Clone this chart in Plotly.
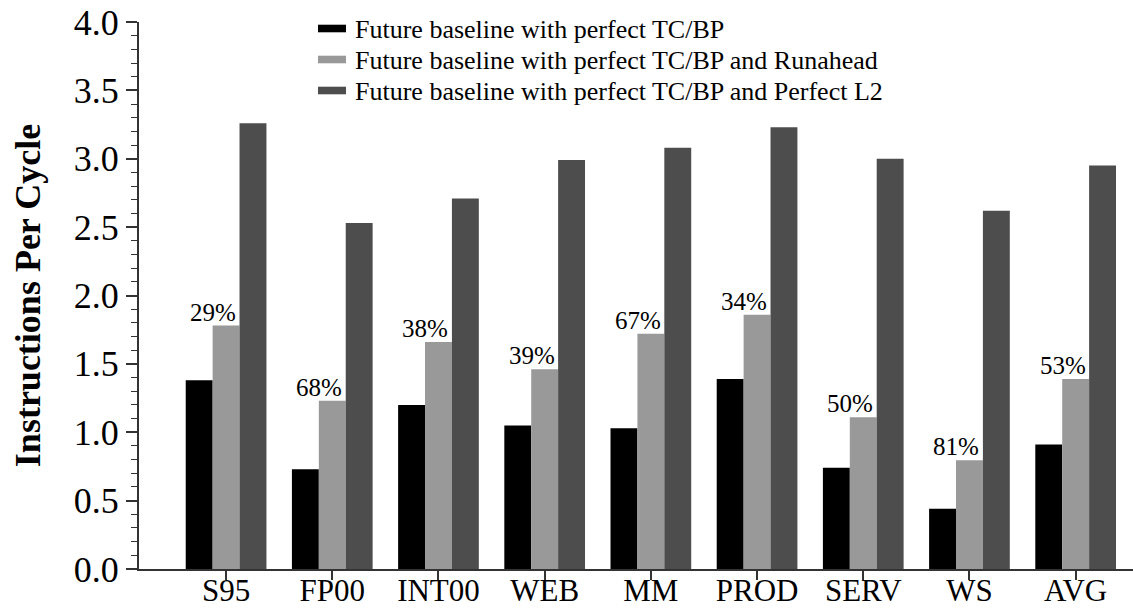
import plotly.graph_objects as go

# Benchmark suites and IPC results
categories = ["S95", "FP00", "INT00", "WEB", "MM", "PROD", "SERV", "WS", "AVG"]
ipc_perfect_tcbp = [1.38, 0.73, 1.20, 1.05, 1.03, 1.39, 0.74, 0.44, 0.91]
ipc_runahead = [1.78, 1.23, 1.66, 1.46, 1.72, 1.86, 1.11, 0.795, 1.39]
ipc_perfect_l2 = [3.26, 2.53, 2.71, 2.99, 3.08, 3.23, 3.00, 2.62, 2.95]
runahead_gain = ["29%", "68%", "38%", "39%", "67%", "34%", "50%", "81%", "53%"]

series_names = [
    "Future baseline with perfect TC/BP",
    "Future baseline with perfect TC/BP and Runahead",
    "Future baseline with perfect TC/BP and Perfect L2",
]
series_colors = ["#000000", "#999999", "#4d4d4d"]

FONT = "Liberation Serif"
AXIS_COLOR = "#333333"

W, H = 1133, 610
M_L, M_R, M_T, M_B = 139, 0, 22, 41
PLOT_W = W - M_L - M_R
PLOT_H = H - M_T - M_B


def paper_x(px):
    return (px - M_L) / PLOT_W


def paper_y(py):
    return (H - M_B - py) / PLOT_H


fig = go.Figure()
for name, vals, color in zip(series_names,
                             [ipc_perfect_tcbp, ipc_runahead, ipc_perfect_l2],
                             series_colors):
    fig.add_trace(go.Bar(
        x=categories, y=vals, name=name,
        marker=dict(color=color, line=dict(width=0)),
        showlegend=False,
    ))

# Speedup of runahead over the baseline, placed above the runahead bar
for cat, val, txt in zip(categories, ipc_runahead, runahead_gain):
    fig.add_annotation(
        x=cat, y=val, text=txt, showarrow=False,
        xanchor="center", yanchor="bottom", xshift=-13, yshift=-2,
        font=dict(family=FONT, size=25, color="#000000"),
    )

# Legend: wide flat swatches followed by the series name
legend_rows = [28.5, 59.5, 90.5]
for name, color, cy in zip(series_names, series_colors, legend_rows):
    fig.add_shape(
        type="rect", xref="paper", yref="paper",
        x0=paper_x(318), x1=paper_x(346),
        y0=paper_y(cy + 3.8), y1=paper_y(cy - 3.8),
        fillcolor=color, line=dict(width=0),
    )
    fig.add_annotation(
        xref="paper", yref="paper", x=paper_x(353), y=paper_y(cy + 1),
        xanchor="left", yanchor="middle", text=name, showarrow=False,
        font=dict(family=FONT, size=26, color="#000000"),
    )

fig.update_layout(
    template="none",
    width=W, height=H,
    margin=dict(l=M_L, r=M_R, t=M_T, b=M_B, autoexpand=False),
    paper_bgcolor="white", plot_bgcolor="white",
    barmode="group", bargap=0.24, bargroupgap=0,
    font=dict(family=FONT, color="#000000"),
    showlegend=False,
    xaxis=dict(
        type="category", range=[-0.82, 8.54], automargin=False,
        showline=True, linecolor=AXIS_COLOR, linewidth=2,
        ticks="outside", ticklen=9, tickwidth=1.5, tickcolor=AXIS_COLOR,
        ticklabelstandoff=-16,
        tickfont=dict(family=FONT, size=31, color="#000000"),
        showgrid=False, zeroline=False,
    ),
    yaxis=dict(
        range=[0, 4], dtick=0.5, tickformat=".1f", automargin=False,
        showline=True, linecolor=AXIS_COLOR, linewidth=2,
        ticks="outside", ticklen=11, tickwidth=1.5, tickcolor=AXIS_COLOR,
        minor=dict(dtick=0.1, ticks="outside", ticklen=6,
                   tickwidth=1.2, tickcolor=AXIS_COLOR, showgrid=False),
        tickfont=dict(family=FONT, size=36, color="#000000"),
        showgrid=False, zeroline=False,
        title=dict(text="<b>Instructions Per Cycle</b>", standoff=22,
                   font=dict(family=FONT, size=36, color="#000000")),
    ),
)

fig.write_html("out.html")
